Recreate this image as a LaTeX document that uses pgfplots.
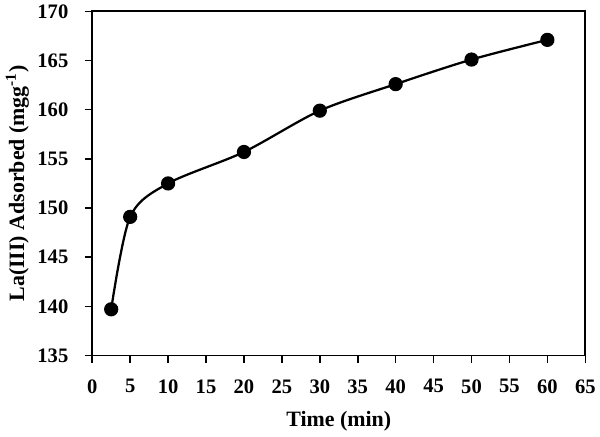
\documentclass[border=0pt]{standalone}
\usepackage{fontspec}
\setmainfont{Liberation Serif}
\usepackage{pgfplots}
\pgfplotsset{compat=1.18}

\begin{document}
\begin{tikzpicture}
\begin{axis}[
    scale only axis,
    width=371.5pt, height=259.3pt,
    xmin=0, xmax=65, ymin=135, ymax=170,
    xtick={0,5,...,65},
    ytick={135,140,...,170},
    tick align=outside,
    major tick length=5.5pt,
    tick style={line width=1.2pt, black},
    axis line style={line width=1.5pt},
    xtick pos=bottom, ytick pos=left,
    /pgf/number format/assume math mode=true,
    tick label style={font=\fontsize{15.5}{18}\selectfont\bfseries},
    xticklabel style={yshift=-9pt},
    yticklabel style={xshift=-9pt},
    xlabel={Time (min)},
    ylabel={La(III) Adsorbed (mgg\textsuperscript{-1})},
    label style={font=\fontsize{16.5}{19}\selectfont\bfseries},
    xlabel style={at={(axis description cs:0.5,-0.191)}, anchor=center},
    ylabel style={at={(axis description cs:-0.152,0.5)}, anchor=center},
]
\addplot[black, line width=1.7pt, smooth, tension=0.5,
    mark=*, mark size=4.5pt, mark options={fill=black}]
coordinates {
    (2.5,139.7) (5,149.1) (10,152.5) (20,155.7) (30,159.9)
    (40,162.6) (50,165.1) (60,167.1)
};
\end{axis}
\path (current axis.south west) ++(-69.5pt,-61pt) coordinate (bbA);
\path (current axis.north east) ++(9pt,7.5pt) coordinate (bbB);
\end{tikzpicture}
\end{document}
